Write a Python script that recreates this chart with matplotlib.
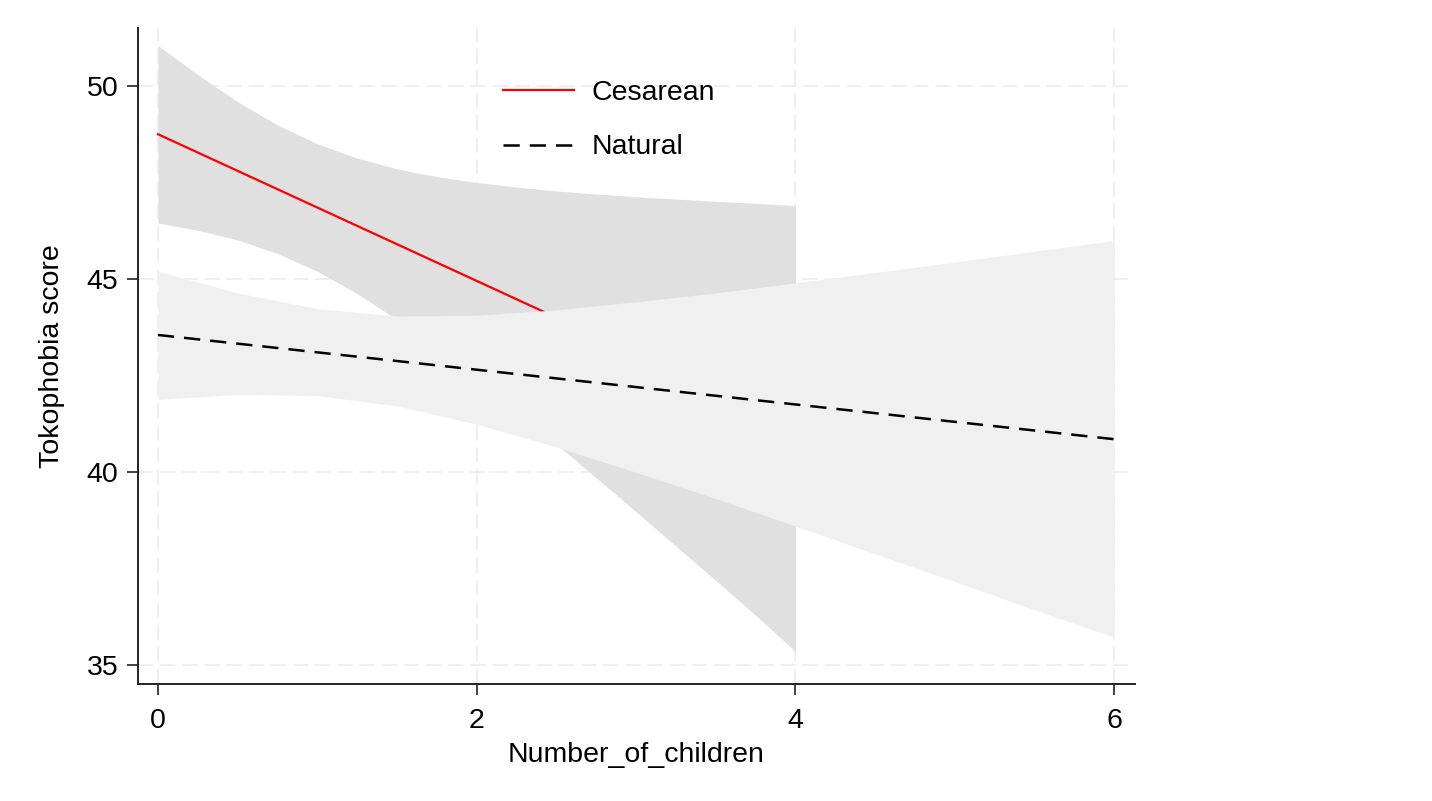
import matplotlib
matplotlib.use("Agg")
import matplotlib.pyplot as plt

plt.rcParams["font.family"] = ["Liberation Sans", "DejaVu Sans"]

# Cesarean: linear fit with 95% CI
ces_x = [0, 0.25, 0.5, 0.75, 1.0, 1.25, 1.5, 1.75, 2.0, 2.25, 2.5, 2.75, 3.0, 3.25, 3.5, 3.75, 4.0]
ces_hi = [51.05, 50.29, 49.59, 48.99, 48.50, 48.13, 47.85, 47.65, 47.50, 47.38, 47.28, 47.20, 47.13, 47.07, 47.01, 46.96, 46.90]
ces_lo = [46.45, 46.26, 46.01, 45.66, 45.20, 44.62, 43.95, 43.20, 42.40, 41.57, 40.72, 39.85, 38.97, 38.08, 37.19, 36.29, 35.35]
ces_fit_x = [0, 4]
ces_fit_y = [48.75, 41.15]

# Natural: linear fit with 95% CI
nat_x = [0, 0.5, 1.0, 1.5, 2.0, 2.5, 3.0, 3.5, 4.0, 4.5, 5.0, 5.5, 6.0]
nat_hi = [45.20, 44.64, 44.23, 44.04, 44.06, 44.20, 44.41, 44.64, 44.90, 45.17, 45.44, 45.72, 46.00]
nat_lo = [41.88, 42.01, 41.98, 41.71, 41.24, 40.65, 39.99, 39.31, 38.60, 37.88, 37.16, 36.43, 35.72]
nat_fit_x = [0, 6]
nat_fit_y = [43.55, 40.85]

x_ticks = [0, 2, 4, 6]
y_ticks = [35, 40, 45, 50]

fig = plt.figure(figsize=(14.32, 8.01), dpi=100)
ax = fig.add_axes([138 / 1432, 1 - 684 / 801, 997 / 1432, 656 / 801])

fs = 20.5
grid_kw = dict(color="#ebebeb", linewidth=1.1, linestyle=(0, (10, 4.5)), zorder=0)
for xv in x_ticks:
    ax.axvline(xv, **grid_kw)
for yv in y_ticks:
    ax.axhline(yv, **grid_kw)

ax.fill_between(ces_x, ces_lo, ces_hi, color="#e0e0e0", linewidth=0, zorder=1)
ax.plot(ces_fit_x, ces_fit_y, color="red", linewidth=1.6, zorder=2, label="Cesarean")
ax.fill_between(nat_x, nat_lo, nat_hi, color="#f0f0f0", linewidth=0, zorder=3)
ax.plot(nat_fit_x, nat_fit_y, color="black", linewidth=1.8, linestyle=(0, (6.5, 4)),
        zorder=4, label="Natural")

ax.set_xlim(-0.125, 6.13)
ax.set_ylim(34.51, 51.5)
ax.set_xticks(x_ticks)
ax.set_yticks(y_ticks)
ax.tick_params(axis="both", direction="out", length=8, width=1.2, color="#222222",
               labelsize=fs, pad=6)
ax.tick_params(axis="x", pad=9)

for side in ["top", "right"]:
    ax.spines[side].set_visible(False)
for side in ["left", "bottom"]:
    ax.spines[side].set_linewidth(1.4)
    ax.spines[side].set_color("#222222")

ax.set_xlabel("Number_of_children", fontsize=fs)
ax.set_ylabel("Tokophobia score", fontsize=fs)
ax.xaxis.set_label_coords(0.5, -0.089)
ax.yaxis.set_label_coords(-0.073, (684 - 356) / 656)

ax.legend(loc="upper left", bbox_to_anchor=(503 / 1432, 1 - 80 / 801),
          bbox_transform=fig.transFigure, frameon=False, fontsize=fs,
          handlelength=2.5, handletextpad=0.6, labelspacing=1.0,
          borderpad=0, borderaxespad=0)

fig.savefig("out.png", dpi=100, facecolor="white")
